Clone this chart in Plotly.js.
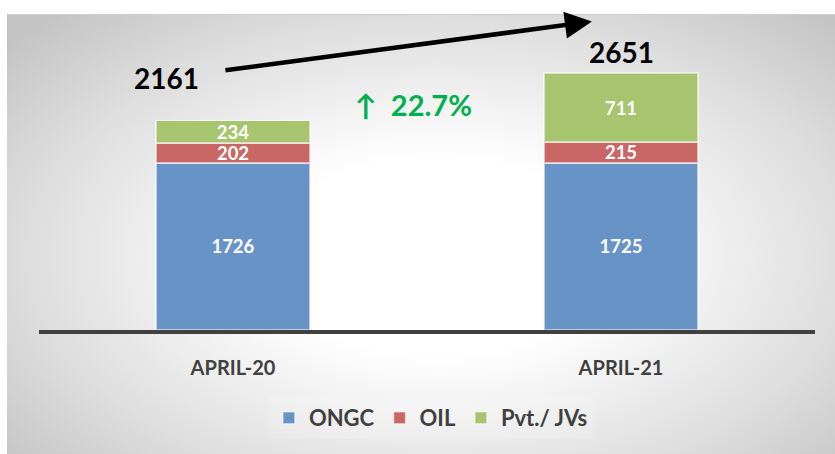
<!DOCTYPE html>
<html>
<head>
<meta charset="utf-8">
<script src="https://cdn.plot.ly/plotly-3.0.1.min.js"></script>
<style>
  html, body { margin: 0; padding: 0; background: #ffffff; }
  #wrap { position: relative; width: 835px; height: 454px; overflow: hidden; }
  #bg { position: absolute; left: 7px; top: 14px; width: 828px; height: 440px;
        border-top: 1px solid #d0d0d0; box-sizing: border-box;
        background: radial-gradient(ellipse 68% 75% at 52% 55%, #ffffff 0%, #ffffff 30%, #dedede 72%, #c4c4c4 100%); }
  #chart { position: absolute; left: 0; top: 0; width: 835px; height: 454px; }
</style>
</head>
<body>
<div id="wrap">
  <div id="bg"></div>
  <div id="chart"></div>
</div>
<script>
const categories = ["APRIL-20", "APRIL-21"];
const ongc = [1726, 1725];
const oil = [202, 215];
const pvt = [234, 711];
const totals = [2161, 2651];
const seriesNames = ["ONGC", "OIL", "Pvt./ JVs"];
const colors = ["#6893C6", "#C96766", "#A7C46F"];

const growth = ((totals[1] - totals[0]) / totals[0] * 100).toFixed(1);

const font = "Lato, 'Open Sans', sans-serif";

function barTrace(vals, name, color) {
  return {
    type: "bar",
    x: categories,
    y: vals,
    name: name,
    text: vals.map(String),
    textposition: "inside",
    insidetextanchor: "middle",
    constraintext: "none",
    textfont: { family: font, size: 18.5, color: "#ffffff", weight: 700 },
    marker: { color: color, line: { color: "rgba(255,255,255,0.55)", width: 1.5 } },
    hoverinfo: "skip"
  };
}

const data = [
  barTrace(ongc, seriesNames[0], colors[0]),
  barTrace(oil, seriesNames[1], colors[1]),
  barTrace(pvt, seriesNames[2], colors[2])
];

const layout = {
  width: 835,
  height: 454,
  margin: { l: 39, r: 20, t: 20, b: 124 },
  paper_bgcolor: "rgba(0,0,0,0)",
  plot_bgcolor: "rgba(0,0,0,0)",
  barmode: "stack",
  bargap: 0.603,
  showlegend: true,
  legend: {
    orientation: "h",
    x: 0.505, xanchor: "center",
    y: -0.284, yanchor: "middle",
    font: { family: font, size: 22, color: "#404040", weight: 700 },
    bgcolor: "rgba(255,255,255,0.15)",
    itemwidth: 30,
    traceorder: "normal"
  },
  xaxis: {
    type: "category",
    range: [-0.5, 1.5],
    showgrid: false,
    zeroline: false,
    showline: true,
    linecolor: "#404040",
    linewidth: 4,
    ticks: "",
    ticklabelstandoff: 17,
    tickfont: { family: font, size: 20, color: "#404040", weight: 700 },
    fixedrange: true
  },
  yaxis: {
    range: [0, 3200],
    showgrid: false,
    zeroline: false,
    showline: false,
    showticklabels: false,
    ticks: "",
    fixedrange: true
  },
  annotations: [
    {
      x: categories[0], y: totals[0], xref: "x", yref: "y",
      text: String(totals[0]), showarrow: false,
      xshift: -67, yshift: 43,
      font: { family: font, size: 28, color: "#000000", weight: 700 }
    },
    {
      x: categories[1], y: totals[1], xref: "x", yref: "y",
      text: String(totals[1]), showarrow: false,
      xshift: 0, yshift: 21,
      font: { family: font, size: 28, color: "#000000", weight: 700 }
    },
    {
      x: 0.466, y: 2330, xref: "x", yref: "y",
      text: "↑  " + growth + "%", showarrow: false,
      font: { family: font, size: 29, color: "#00B050", weight: 700 }
    },
    {
      x: 0.925, y: 3185, xref: "x", yref: "y",
      ax: -368, ay: 49, axref: "pixel", ayref: "pixel",
      text: "", showarrow: true,
      arrowhead: 2, arrowsize: 1.2, arrowwidth: 4.5, arrowcolor: "#000000",
      standoff: 0, startstandoff: 0
    }
  ]
};

Plotly.newPlot("chart", data, layout, { displayModeBar: false, staticPlot: true });
</script>
</body>
</html>
